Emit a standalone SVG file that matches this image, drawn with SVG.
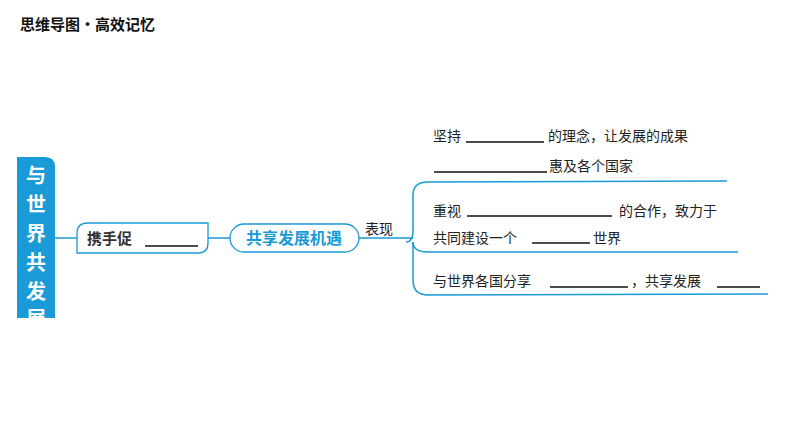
<svg xmlns="http://www.w3.org/2000/svg" width="794" height="447" viewBox="0 0 794 447">
<style>
.t{font-family:"Noto Sans CJK SC","Noto Sans",sans-serif;font-size:14px;fill:#222}
.b{font-family:"Noto Sans CJK SC",sans-serif;font-weight:bold}
.ln{stroke:#1a9ad6;stroke-width:1.5;fill:none}
.u{stroke:#111;stroke-width:1.3}
</style>
<rect width="794" height="447" fill="#fff"/>
<text x="20" y="30" class="b" font-size="15" fill="#111">思维导图·高效记忆</text>
<g id="connectors">
<line class="ln" x1="55" y1="238" x2="77" y2="238"/>
<line class="ln" x1="208" y1="238" x2="230" y2="238"/>
<line class="ln" x1="359" y1="238" x2="413" y2="238"/>
<path class="ln" d="M406,242 Q413,242 413,230 L413,195 Q413,182 428,182 L727,181"/>
<path class="ln" d="M413,242 Q413,252 428,252 L738,252"/>
<path class="ln" d="M413,242 L413,280 Q413,295 428,295 L768,294"/>
</g>
<g id="root">
<path d="M17,157 H45 Q55,157 55,167 V318 H17 Z" fill="#1a9ad6"/>
<text class="b" font-size="20" fill="#fff" text-anchor="middle"><tspan x="36" y="183">与</tspan><tspan x="36" y="212">世</tspan><tspan x="36" y="241">界</tspan><tspan x="36" y="270">共</tspan><tspan x="36" y="299">发</tspan><tspan x="36" y="326">展</tspan></text>
</g>
<g id="n1">
<path d="M88,223 H208 V243 Q208,253 198,253 H77 V233 Q77,223 88,223 Z" fill="#fff" stroke="#1a9ad6" stroke-width="1.3"/>
<text x="87" y="244" class="b" font-size="15" fill="#333">携手促</text>
<line class="u" x1="145" y1="246" x2="198" y2="246"/>
</g>
<g id="n2">
<rect x="230" y="224" width="129" height="28" rx="14" fill="#fff" stroke="#1a9ad6" stroke-width="1.3"/>
<text x="294" y="244" class="b" font-size="16" fill="#1a9ad6" text-anchor="middle">共享发展机遇</text>
</g>
<g id="lbl"><text x="365" y="234" class="t" font-size="16" fill="#111">表现</text></g>
<g id="item1">
<text x="433" y="141" class="t">坚持</text><line class="u" x1="466" y1="142" x2="544" y2="142"/>
<text x="548" y="141" class="t">的理念，让发展的成果</text>
<line class="u" x1="434" y1="172" x2="547" y2="172"/>
<text x="549" y="171" class="t">惠及各个国家</text>
</g>
<g id="item2">
<text x="433" y="216" class="t">重视</text><line class="u" x1="467" y1="216" x2="612" y2="216"/>
<text x="619" y="216" class="t">的合作，致力于</text>
<text x="433" y="243" class="t">共同建设一个</text><line class="u" x1="532" y1="243" x2="590" y2="243"/>
<text x="593" y="243" class="t">世界</text>
</g>
<g id="item3">
<text x="433" y="286" class="t">与世界各国分享</text><line class="u" x1="550" y1="287" x2="628" y2="287"/>
<text x="631" y="286" class="t">，共享发展</text><line class="u" x1="717" y1="287" x2="760" y2="287"/>
</g>
</svg>
